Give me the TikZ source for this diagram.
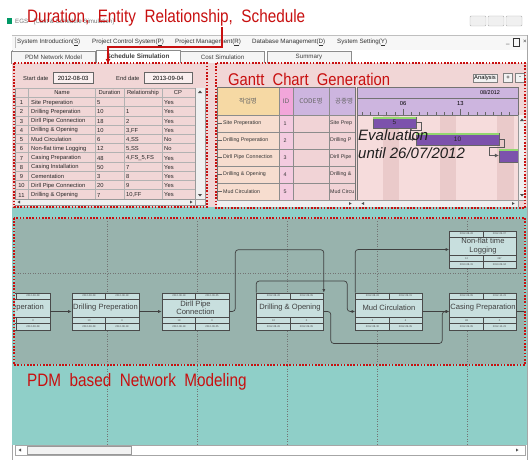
\documentclass[tikz,border=0pt]{standalone}
\usepackage{fontspec}
\setmainfont{Liberation Sans}
\newfontfamily\krfont{Noto Sans CJK KR}
\usepackage{graphicx}
\usetikzlibrary{arrows.meta,positioning,calc}
\definecolor{AnnRed}{HTML}{C81010}
\definecolor{PanelPink}{HTML}{F1D6D6}
\definecolor{NetGray}{HTML}{98B3AD}
\definecolor{NetTeal}{HTML}{8FCFC8}
\definecolor{NodeFill}{HTML}{C8DFDE}
\definecolor{NodeLine}{HTML}{4A4A4A}
\definecolor{HeadPeach}{HTML}{F6D9A4}
\definecolor{HeadPink}{HTML}{F2A6DA}
\definecolor{HeadLav}{HTML}{CDB5DF}
\definecolor{RowPeach}{HTML}{F7DDCF}
\definecolor{RowPink}{HTML}{F4CBE0}
\definecolor{RowRose}{HTML}{F1D3D6}
\definecolor{ChartPink}{HTML}{F6DCDC}
\definecolor{ChartStripe}{HTML}{EACACA}
\definecolor{BarPurple}{HTML}{7C52AC}
\definecolor{BarGreen}{HTML}{92D86E}

\newcommand{\pdmnode}[9]{%
  \node[pdmbox] (#1) at (#2) {};
  \draw[pdmrule] ($(#1.north west)+(0,6)$) -- ($(#1.north east)+(0,6)$)
    ($(#1.south west)+(0,-13)$) -- ($(#1.south east)+(0,-13)$)
    ($(#1.south west)+(0,-7)$) -- ($(#1.south east)+(0,-7)$)
    (#1.north) -- ($(#1.north)+(0,6)$)
    (#1.south) -- ($(#1.south)+(0,-13)$);
  \node[pdmtiny] at ($(#1.north)+(-16.5,3)$) {#4};
  \node[pdmtiny] at ($(#1.north)+(16.5,3)$) {#5};
  \node[pdmlabel] at ($(#1.center)+(0,-3.5)$) {#3};
  \node[pdmtiny] at ($(#1.south)+(-16.5,-10)$) {#6};
  \node[pdmtiny] at ($(#1.south)+(16.5,-10)$) {#7};
  \node[pdmtiny] at ($(#1.south)+(-16.5,-3.5)$) {#8};
  \node[pdmtiny] at ($(#1.south)+(16.5,-3.5)$) {#9};
}

\begin{document}
\begin{tikzpicture}[x=1pt,y=-1pt,>=Latex,
  reddot/.style={draw=AnnRed,line width=1.8pt,dash pattern=on 1.6pt off 1.6pt},
  annot/.style={text=AnnRed,font=\fontsize{18}{18}\selectfont,inner sep=0pt,anchor=base west},
  redarrow/.style={draw=AnnRed,line width=1.2pt,-{Latex[length=5pt,width=5pt]}},
  uitext/.style={font=\fontsize{6.2}{7}\selectfont,inner sep=0pt,text=black!80},
  tab/.style={draw=black!45,fill=black!4,minimum width=84pt,minimum height=12pt,inner sep=0pt,font=\fontsize{6.2}{7}\selectfont,text=black!75},
  cell/.style={font=\fontsize{5.8}{6}\selectfont,inner sep=0pt,anchor=west,text=black!85},
  gcell/.style={font=\fontsize{5.3}{6}\selectfont,inner sep=0pt,anchor=west,text=black!80},
  datebox/.style={draw=black!60,fill=PanelPink!40,minimum width=#1,minimum height=11pt,inner sep=1pt,font=\fontsize{6}{7}\selectfont},
  pdmbox/.style={draw=NodeLine,fill=NodeFill,line width=0.6pt,minimum width=67pt,minimum height=37pt,inner sep=0pt},
  pdmrule/.style={draw=NodeLine,line width=0.4pt},
  pdmtiny/.style={font=\fontsize{2.6}{3}\selectfont,inner sep=0pt,text=black!70},
  pdmlabel/.style={font=\fontsize{7.6}{8.4}\selectfont,inner sep=0pt,align=center,text=black!75},
  link/.style={draw=black!75,line width=0.7pt,rounded corners=3pt,-{Latex[length=3.5pt,width=3pt]}},
  bar/.style={draw=black!60,fill=BarPurple,inner sep=0pt,font=\fontsize{6.5}{7}\selectfont,text=black!85},
  glink/.style={draw=black!65,line width=0.5pt,-{Latex[length=4pt,width=4pt]}},
  grid/.style={draw=black!55,line width=0.5pt,dotted}]
\useasboundingbox (0,0) rectangle (530,460);
\fill[white] (0,0) rectangle (530,460);
\draw[black!35] (12,35) -- (12,460) (527,35) -- (527,460);

% title bar and menu
\fill[blue!40!green] (7,18) rectangle (12,24);
\node[uitext,anchor=west,text=black!55] (wintitle) at (15,21.5) {EGS - [Cost \& Schedule Simulation]};
\foreach \bx in {470,488,506}
  \draw[black!30,fill=black!6,rounded corners=1pt] (\bx,16) rectangle ++(16,10);
\fill[black!3] (12,35) rectangle (527,50);
\draw[black!25] (12,35) -- (527,35) (15,37) -- (15,48);
\node[uitext,anchor=west] (mintro) at (17,42.5) {System Introduction(\underline{S})};
\node[uitext,anchor=west] (mctrl) at (92,42.5) {Project Control System(\underline{P})};
\node[uitext,anchor=west] (mproj) at (175,42.5) {Project Management(\underline{R})};
\node[uitext,anchor=west] (mdb) at (252,42.5) {Database Management(\underline{D})};
\node[uitext,anchor=west] (mset) at (337,42.5) {System Setting(\underline{Y})};
\node[uitext,anchor=east] (mwin) at (527,42.5) {\_\ \ \raisebox{0.3pt}{\fbox{\rule{0pt}{1.5pt}}}\ \ ×};

% tabs
\node[tab] (tabpdm) at (53.5,57) {PDM Network Model};
\node[tab] (tabcost) at (222.5,57) {Cost Simulation};
\node[tab] (tabsum) at (309,57) {Summary};
\node[tab,fill=white,minimum height=13pt,font=\fontsize{6.4}{7}\selectfont\bfseries] (tabsim) at (138,56.5) {Schedule Simulation};

% upper panels
\fill[PanelPink] (12,63) rectangle (527,212);
\node[cell] (lstart) at (23,78) {Start date};
\node[datebox=40pt,anchor=west] (dstart) at (53,78) {2012-08-03};
\node[cell] (lend) at (116,78) {End date};
\node[datebox=48pt,anchor=west] (dend) at (144,78) {2013-09-04};
\draw[black!45] (15,88) rectangle (205,205);
\foreach \cx in {28,95,124,162,195} \draw[black!30] (\cx,88) -- (\cx,199);
\foreach \k in {0,...,11} \draw[black!30] (15,{88+9.3+9.23*(\k-1)}) -- (195,{88+9.3+9.23*(\k-1)});
\node[cell,anchor=center] at (62,92.7) {Name};
\node[cell,anchor=center] at (109.5,92.7) {Duration};
\node[cell,anchor=center] at (143,92.7) {Relationship};
\node[cell,anchor=center] at (178,92.7) {CP};
\foreach \nam/\dur/\rel/\cp [count=\i] in {
  Site Preperation/5/{}/Yes,
  Drilling Preperation/10/1/Yes,
  Dirll Pipe Connection/18/2/Yes,
  Drilling \& Opening/10/{3,FF}/Yes,
  Mud Circulation/6/{4,SS}/No,
  Non-flat time Logging/12/{5,SS}/No,
  Casing Preparation/48/{4,FS\_5,FS}/Yes,
  Casing Installation/50/7/Yes,
  Cementation/3/8/Yes,
  Dirll Pipe Connection/20/9/Yes,
  Drilling \& Opening/7/{10,FF}/Yes}{
  \pgfmathsetmacro\ry{93.5+9.23*\i}
  \node[cell,anchor=center] at (21.5,\ry) {\i};
  \node[cell] at (31,\ry) {\nam};
  \node[cell] at (97,\ry) {\dur};
  \node[cell] at (126,\ry) {\rel};
  \node[cell] at (164,\ry) {\cp};
}
\fill[black!6] (195,88) rectangle (205,199) (15,199) rectangle (205,205);
\draw[black!40] (195,88) -- (195,205) (15,199) -- (205,199);
\fill[black!70] (198,93) -- (202,93) -- (200,90.5) -- cycle (198,194) -- (202,194) -- (200,196.5) -- cycle;
\fill[black!70] (20,200.5) -- (20,203.5) -- (17.5,202) -- cycle (190,200.5) -- (190,203.5) -- (192.5,202) -- cycle;

% gantt panel
\node[annot,font=\fontsize{17}{17}\selectfont] (anngantt) at (228,85) {\scalebox{0.87}[1]{Gantt\ \ Chart\ \ Generation}};
\node[draw=black!50,fill=black!5,inner sep=1.5pt,font=\fontsize{5.8}{6}\selectfont] (btnan) at (485,78) {Analysis};
\node[draw=black!50,fill=black!5,minimum width=9pt,minimum height=9pt,inner sep=0pt,font=\fontsize{6}{6}\selectfont] (btnplus) at (508,78) {+};
\node[draw=black!50,fill=black!5,minimum width=9pt,minimum height=9pt,inner sep=0pt,font=\fontsize{6}{6}\selectfont] (btnminus) at (520,78) {-};
\fill[HeadPeach] (217,87) rectangle (279,115);
\fill[HeadPink] (279,87) rectangle (293,115);
\fill[HeadLav] (293,87) rectangle (355,115);
\fill[RowPeach] (217,115) rectangle (279,200);
\fill[RowPink] (279,115) rectangle (293,200);
\fill[RowRose] (293,115) rectangle (355,200);
\foreach \cx in {279,293,329} \draw[black!45] (\cx,87) -- (\cx,200);
\foreach \k in {0,...,4} \draw[black!45] (217,115+17*\k) -- (355,115+17*\k);
\draw[black!55] (217,87) rectangle (355,200);
\begin{scope}
  \clip (217,87) rectangle (355,200);
  \node[font=\krfont\fontsize{6.5}{7}\selectfont,text=black!60] at (248,101) {작업명};
  \node[font=\fontsize{6.5}{7}\selectfont,text=black!60] at (286,101) {ID};
  \node[font=\krfont\fontsize{6.5}{7}\selectfont,text=black!60] at (311,101) {CODE명};
  \node[font=\krfont\fontsize{6.5}{7}\selectfont,text=black!60,anchor=west,inner sep=0pt] at (335,101) {공종명};
  \foreach \nam/\short [count=\i] in {Site Preperation/Site Prep, Drilling Preperation/Drilling P,
      Dirll Pipe Connection/Dirll Pipe, Drilling \& Opening/Drilling \&, Mud Circulation/Mud Circu}{
    \pgfmathsetmacro\ry{106.5+17*\i}
    \draw[black!60] (217,\ry) -- (222,\ry);
    \node[gcell] at (223,\ry) {\nam};
    \node[gcell,anchor=center] at (285,\ry) {\i};
    \node[gcell] at (330,\ry) {\short};
  }
\end{scope}
\fill[HeadLav] (357,87) rectangle (518,115);
\fill[ChartPink] (357,115) rectangle (518,200);
\begin{scope}
  \clip (357,115) rectangle (518,200);
  \foreach \j in {0,1,2} \fill[ChartStripe] (382.5+57.4*\j,115) rectangle ++(16.4,85);
\end{scope}
\draw[black!55] (357,87) rectangle (518,200) (357,98) -- (518,98) (357,115) -- (518,115);
\foreach \k in {0,...,19} \draw[black!60] (362+8.2*\k,115) -- ++(0,-3);
\draw[black!60] (403,115) -- ++(0,-6) (460.4,115) -- ++(0,-6);
\node[font=\fontsize{5.8}{6}\selectfont] (wk06) at (403,104) {06};
\node[font=\fontsize{5.8}{6}\selectfont] (wk13) at (460.4,104) {13};
\node[font=\fontsize{5.5}{6}\selectfont] (month) at (490,92.5) {08/2012};
\begin{scope}
  \clip (357,115) rectangle (518,200);
  \node[bar,minimum width=43pt,minimum height=11pt] (bar1) at (394.5,122.5) {5};
  \node[bar,minimum width=83pt,minimum height=12pt] (bar2) at (457.5,139) {10};
  \node[bar,minimum width=41pt,minimum height=13pt] (bar3) at (519.5,155.5) {};
  \foreach \b in {bar1,bar2,bar3} \fill[BarGreen] (\b.north west) rectangle ($(\b.north east)+(0,2.5)$);
  \draw[glink] (bar1.east) -- ++(5,0) -- ++(0,7.5) -| ($(bar2.west)+(-6,0)$) -- (bar2.west);
  \draw[glink] (bar2.east) -- ++(5,0) -- ++(0,8) -| ($(bar3.west)+(-10,0)$) -- (bar3.west);
\end{scope}
\node[font=\fontsize{15}{15}\selectfont\itshape,text=black!88,inner sep=0pt,anchor=base west] (evalA) at (358,140) {Evaluation};
\node[font=\fontsize{15}{15}\selectfont\itshape,text=black!88,inner sep=0pt,anchor=base west] (evalB) at (358,158) {until 26/07/2012};
\fill[black!6] (518,115) rectangle (525,200) (217,200) rectangle (518,207);
\draw[black!40] (518,115) -- (518,207) (217,200) -- (525,200);
\fill[black!70] (520,121) -- (524,121) -- (522,118.5) -- cycle (520,194) -- (524,194) -- (522,196.5) -- cycle;
\fill[black!70] (349,202) -- (349,205) -- (351.5,203.5) -- cycle (364,202) -- (364,205) -- (361.5,203.5) -- cycle
  (512,202) -- (512,205) -- (514.5,203.5) -- cycle;

% network panel
\fill[NetTeal] (12,207) rectangle (527,445);
\fill[NetGray] (15,219) rectangle (524,364);
\foreach \gx in {107,197,287,377,467} \draw[grid] (\gx,221) -- (\gx,444);
\draw[grid] (15,273) -- (524,273);
\begin{scope}
  \clip (15,219) rectangle (524,364);
  \pdmnode{site}{16.5,311.5}{Site Preperation}{2012-08-03}{2012-08-08}{5}{0}{2012-08-03}{2012-08-08}
  \pdmnode{drill}{105.5,311.5}{Drilling Preperation}{2012-08-08}{2012-08-18}{10}{0}{2012-08-08}{2012-08-18}
  \pdmnode{pipe}{195.5,311.5}{Dirll Pipe\\Connection}{2012-08-18}{2012-09-05}{18}{0}{2012-08-18}{2012-09-05}
  \pdmnode{opening}{290,311.5}{Drilling \& Opening}{2012-08-26}{2012-09-05}{10}{0}{2012-08-26}{2012-09-05}
  \pdmnode{mud}{389,311.5}{Mud Circulation}{2012-08-26}{2012-09-01}{6}{4}{2012-08-30}{2012-09-05}
  \pdmnode{casing}{483,311.5}{Casing Preparation}{2012-09-05}{2012-10-23}{48}{0}{2012-09-05}{2012-10-23}
  \pdmnode{logging}{483,249.5}{Non-flat time\\Logging}{2012-08-26}{2012-09-07}{12}{367}{2013-08-31}{2013-09-04}
  \coordinate (offright) at (530,311.5);
  \draw[link] (site.east) -- (drill.west);
  \draw[link] (drill.east) -- (pipe.west);
  \draw[link] (pipe.east) -- ++(6,0) |- ($(opening.north east)+(0,-43)$) -- (opening.north east);
  \draw[link] (opening.north west) |- ($(mud.west)+(-8,-30.5)$) |- (mud.west);
  \draw[link] (mud.north west) |- (logging.west);
  \draw[link] (opening.east) -- ++(7,0) |- ($(casing.west)+(-7,32)$) |- (casing.west);
  \draw[link] (mud.east) -- (casing.west);
  \draw[link,-] (casing.east) -- (offright);
\end{scope}

% bottom scroll bar
\fill[white] (15,445) rectangle (525,455);
\draw[black!35] (15,445) rectangle (525,455);
\draw[black!40,fill=black!5] (27,446) rectangle (131,454);
\fill[black!70] (21,448.5) -- (21,451.5) -- (18.5,450) -- cycle (516,448.5) -- (516,451.5) -- (518.5,450) -- cycle;

% annotations
\draw[reddot] (14,63) rectangle (207,207);
\draw[reddot] (216,63) rectangle (525,208);
\draw[reddot] (14,218) rectangle (525,365);
\node[annot] (annsched) at (27,23) {\scalebox{0.85}[1]{Duration,\ \ Entity\ \ Relationship,\ \ Schedule}};
\node[annot] (annpdm) at (27,386) {\scalebox{0.85}[1]{PDM\ \ based\ \ Network\ \ Modeling}};
\coordinate (annfoot) at (222,27);
\coordinate (tabhit) at (108,64);
\draw[redarrow] (annfoot) -- ++(0,20) -| (tabhit);
\end{tikzpicture}
\end{document}
